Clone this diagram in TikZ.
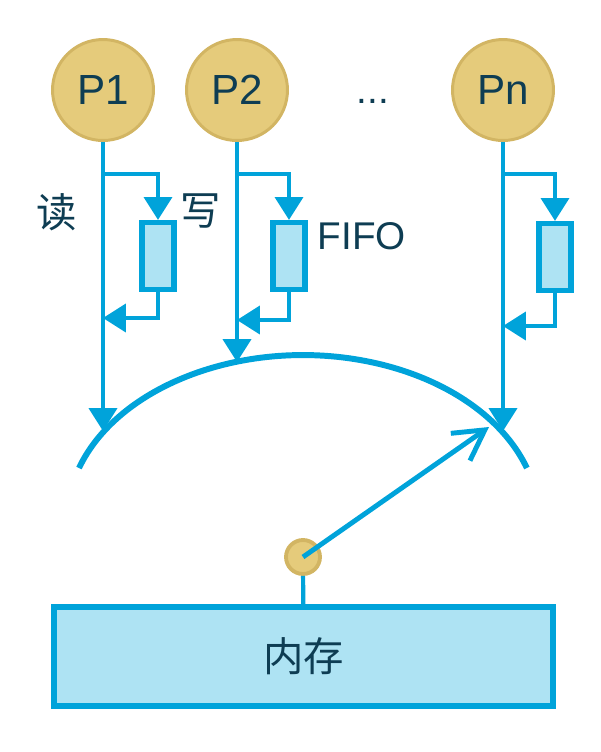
\documentclass[tikz,border=0pt]{standalone}
\usepackage{fontspec}
\setmainfont{Liberation Sans}
\newfontfamily\cjk{Noto Sans CJK SC}
\usetikzlibrary{positioning,arrows.meta}
\definecolor{wire}{HTML}{00A3DA}
\definecolor{cell}{HTML}{AEE3F3}
\definecolor{gold}{HTML}{E5CB7B}
\definecolor{goldedge}{HTML}{D2B563}
\definecolor{ink}{HTML}{0E3D53}
\tikzset{
	x=0.02cm, y=-0.02cm, % one unit is one pixel of the sketch, y runs downwards
	>={Triangle[length=13pt,width=16pt]}, % filled arrow heads
	proc/.style={circle, fill=gold, draw=goldedge, line width=1.7pt, minimum size=2.02cm, inner sep=0pt, text=ink, font=\fontsize{24}{28}\selectfont}, % the processors
	fifo/.style={rectangle, fill=cell, draw=wire, line width=3pt, minimum width=0.64cm, minimum height=1.34cm, inner sep=0pt}, % write buffers
	mem/.style={rectangle, fill=cell, draw=wire, line width=3.4pt, minimum width=9.98cm, minimum height=1.98cm, text=ink, font=\cjk\fontsize{23}{27}\selectfont},
	cache/.style={circle, fill=gold, draw=goldedge, line width=2.2pt, minimum size=0.68cm, inner sep=0pt},
	lbl/.style={text=ink, font=\fontsize{22}{26}\selectfont},
	cjklbl/.style={text=ink, font=\cjk\fontsize{23}{27}\selectfont},
	link/.style={draw=wire, line width=1.9pt}, % change the width if necessary
	bus/.style={draw=wire, line width=3.4pt},
}
\begin{document}
\begin{tikzpicture}
	\useasboundingbox (0,0) rectangle (600,752);
	\node[proc] (p1) at (103,90) {P1};
	\node[proc] (p2) at (237,90) {P2};
	\node[proc] (pn) at (503,90) {Pn};
	\node[lbl, anchor=base] (dots) at (373,103) {...};
	
	\node[fifo] (f1) at (158,256) {};
	\node[fifo] (f2) at (289,256) {};
	\node[fifo] (fn) at (555,257) {};
	
	\node[cjklbl] (read) at (57,212) {读};
	\node[cjklbl] (write) at (201,211) {写};
	\node[lbl] (fifolabel) at (362,236) {FIFO};
	
	\coordinate (s1) at (103,174);
	\coordinate (s2) at (237,174);
	\coordinate (sn) at (503,174);
	\coordinate (r1) at (103,318);
	\coordinate (r2) at (237,320);
	\coordinate (rn) at (503,326);
	\coordinate (a1) at (103,431);
	\coordinate (a2) at (237,362);
	\coordinate (an) at (503,431);
	\coordinate (hit) at (489,427);
	
	\draw[bus] (79,468) arc[start angle=-161.6, end angle=-18.4, x radius=236, y radius=165];
	
	\draw[link,->] (p1.south) -- (a1);
	\draw[link,->] (p2.south) -- (a2);
	\draw[link,->] (pn.south) -- (an);
	\draw[link,->] (s1) -| (f1.north);
	\draw[link,->] (s2) -| (f2.north);
	\draw[link,->] (sn) -| (fn.north);
	\draw[link,->] (f1.south) |- (r1);
	\draw[link,->] (f2.south) |- (r2);
	\draw[link,->] (fn.south) |- (rn);
	
	\node[mem] (memory) at (303.5,656.5) {内存};
	\node[cache] (port) at (303,557) {};
	\draw[link, line width=2.4pt] (port) -- (memory);
	\draw[link, line width=2.8pt, -{Straight Barb[length=17pt,width=19pt]}] (port.center) -- (hit);
\end{tikzpicture}
\end{document}
